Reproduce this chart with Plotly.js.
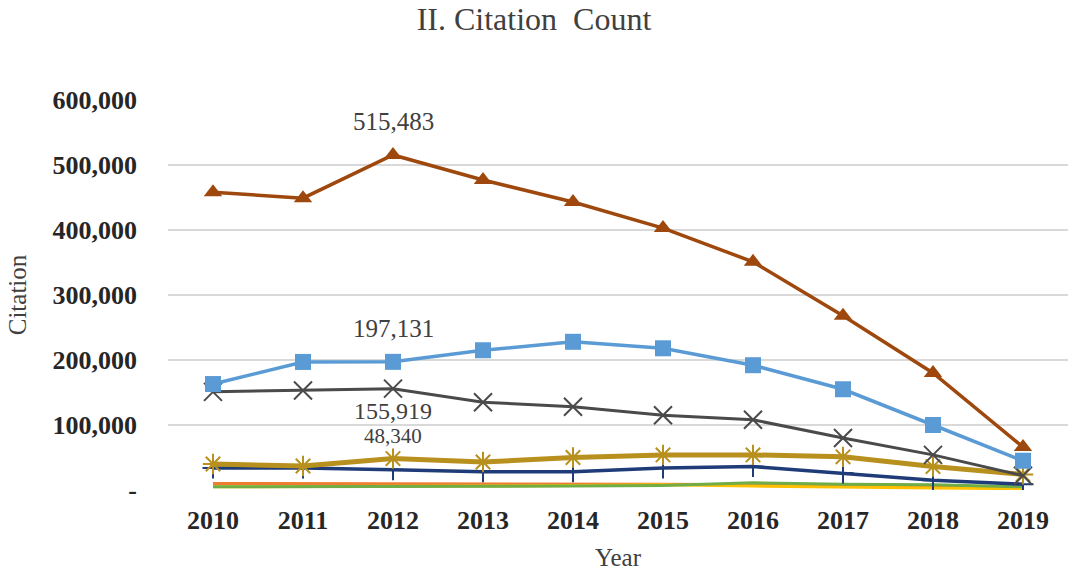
<!DOCTYPE html>
<html>
<head>
<meta charset="utf-8">
<script src="https://cdn.plot.ly/plotly-3.0.1.min.js"></script>
<style>html,body{margin:0;padding:0;background:#fff;}#chart{width:1068px;height:573px;}</style>
</head>
<body>
<div id="chart"></div>
<script>
const years = ["2010","2011","2012","2013","2014","2015","2016","2017","2018","2019"];
const seriesBrown = [458000, 449000, 515483, 477000, 443000, 403000, 351000, 268000, 180000, 66000];
const seriesBlue  = [163000, 197000, 197131, 215000, 228000, 218000, 192000, 155000, 100000, 45000];
const seriesGray  = [151000, 153000, 155919, 135000, 128000, 115000, 108000, 80000, 54000, 22000];
const seriesGold  = [40000, 37000, 48340, 43000, 50000, 54000, 54000, 51000, 36000, 24000];
const seriesNavy  = [34000, 34000, 31000, 28000, 28000, 34000, 36000, 26000, 15000, 9000];
const seriesOrange = [10000, 10000, 10000, 10000, 10000, 9000, 8000, 6000, 4000, 3000];
const seriesYellow = [5000, 5000, 6000, 6000, 7000, 8000, 6000, 4000, 3000, 2000];
const seriesGreen  = [5000, 5000, 5000, 5000, 6000, 7000, 11000, 9000, 8000, 5000];
const yTickVals = [0, 100000, 200000, 300000, 400000, 500000, 600000];
const yTickText = ["-", "100,000", "200,000", "300,000", "400,000", "500,000", "600,000"];
const labelIdx = 2;

const serif = "Liberation Serif, Times New Roman, serif";

function line(y, color, width, marker) {
  const t = {x: years, y: y, type: "scatter", mode: marker ? "lines+markers" : "lines",
    line: {color: color, width: width}, hoverinfo: "x+y"};
  if (marker) t.marker = marker;
  return t;
}

const data = [
  line(seriesOrange, "#ED7D31", 3),
  line(seriesYellow, "#FFC000", 3),
  line(seriesGreen, "#70AD47", 3),
  line(seriesNavy, "#1F3C78", 3.5, {symbol: "cross-thin-open", size: 15, line: {color: "#3a5a8c", width: 2}}),
  line(seriesGold, "#B8901E", 5, {symbol: "asterisk-open", size: 17, line: {color: "#C9A53A", width: 2}}),
  line(seriesGray, "#4A4A4A", 3, {symbol: "x-thin-open", size: 18, line: {color: "#7F7F7F", width: 2}}),
  line(seriesBlue, "#5B9BD5", 3.5, {symbol: "square", size: 16, color: "#5B9BD5"}),
  line(seriesBrown, "#9E480E", 3.5, {symbol: "triangle-up", size: 16, color: "#9E480E"})
];

const annFont = {family: serif, size: 25, color: "#404040"};
const annotations = [
  {xref: "x", yref: "y", x: labelIdx, y: seriesBrown[labelIdx], text: "515,483", showarrow: false, yshift: 33, font: annFont},
  {xref: "x", yref: "y", x: labelIdx, y: seriesBlue[labelIdx], text: "197,131", showarrow: false, yshift: 33, font: annFont},
  {xref: "x", yref: "y", x: labelIdx, y: seriesGray[labelIdx], text: "155,919", showarrow: false, yshift: -22, font: {family: serif, size: 24, color: "#404040"}},
  {xref: "x", yref: "y", x: labelIdx, y: seriesGold[labelIdx], text: "48,340", showarrow: false, yshift: 23, font: {family: serif, size: 21, color: "#404040"}}
];

const layout = {
  width: 1068, height: 573,
  margin: {l: 168, r: 0, t: 100, b: 83},
  paper_bgcolor: "#fff", plot_bgcolor: "#fff",
  showlegend: false,
  title: {text: "II. Citation  Count", font: {family: serif, size: 32, color: "#404040"}, x: 0.5, xanchor: "center", y: 0.968, yanchor: "middle"},
  xaxis: {
    type: "category", range: [-0.5, 9.5],
    showgrid: false, zeroline: false, showline: false, ticks: "",
    tickfont: {family: serif, size: 26, color: "#262626", weight: "bold"},
    ticklabelstandoff: 12,
    title: {text: "Year", font: {family: serif, size: 25, color: "#404040"}, standoff: 14}
  },
  yaxis: {
    range: [0, 600000], tickvals: yTickVals, ticktext: yTickText,
    showgrid: true, gridcolor: "#D9D9D9", gridwidth: 2, zeroline: false, showline: false, ticks: "",
    tickfont: {family: serif, size: 26, color: "#262626", weight: "bold"},
    ticklabelstandoff: 30,
    title: {text: "Citation", font: {family: serif, size: 25, color: "#404040"}, standoff: 18}
  },
  annotations: annotations
};

Plotly.newPlot("chart", data, layout, {displayModeBar: false, staticPlot: true});
</script>
</body>
</html>
